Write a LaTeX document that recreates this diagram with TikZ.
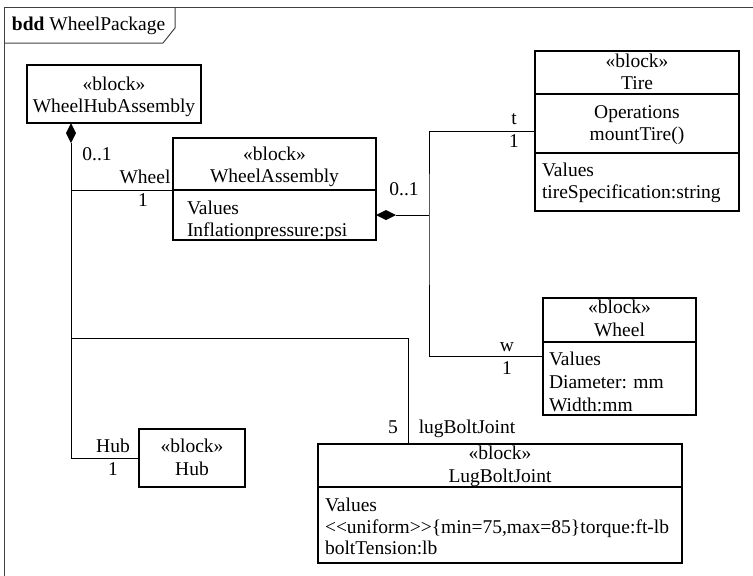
\documentclass[tikz,border=0pt]{standalone}
\usepackage{fontspec}
\setmainfont{Liberation Serif}
\usetikzlibrary{calc}
\begin{document}
\begin{tikzpicture}[x=1pt,y=-1pt,
  every node/.style={font=\fontsize{19.5}{22}\selectfont, inner sep=0pt, outer sep=0pt},
  block/.style={draw, line width=1.1pt, anchor=north west, inner sep=0pt},
  frameline/.style={line width=1pt, draw=black!75},
  conn/.style={line width=1pt},
  sep/.style={line width=1.1pt},
  lbl/.style={anchor=mid, yshift=-3.5pt},
  attr/.style={anchor=mid west, yshift=-3.5pt},
  compo/.style={fill=black}
]
\useasboundingbox (0,0) rectangle (753,576);
\clip (0,0) rectangle (753,576);

% diagram frame and name tab
\draw[frameline] (4,600) -- (4,7) -- (780,7);
\draw[frameline] (175,7) -- (175,28) -- (163,43) -- (4,43);
\node[attr] (title) at (12,25) {\textbf{bdd} WheelPackage};

% blocks
\node[block, minimum width=174pt, minimum height=58pt] (whub) at (27,65) {};
\node[block, minimum width=203pt, minimum height=102pt] (wasm) at (173,138) {};
\node[block, minimum width=204pt, minimum height=160pt] (tire) at (535,51) {};
\node[block, minimum width=153pt, minimum height=117pt] (wheel) at (543,298) {};
\node[block, minimum width=364pt, minimum height=119pt] (lug) at (318,444) {};
\node[block, minimum width=106pt, minimum height=58pt] (hub) at (139,429) {};

% compartment separators
\draw[sep] ($(wasm.north west)+(0,52)$) -- ($(wasm.north east)+(0,52)$);
\draw[sep] ($(tire.north west)+(0,43)$) -- ($(tire.north east)+(0,43)$);
\draw[sep] ($(tire.north west)+(0,102)$) -- ($(tire.north east)+(0,102)$);
\draw[sep] ($(wheel.north west)+(0,44)$) -- ($(wheel.north east)+(0,44)$);
\draw[sep] ($(lug.north west)+(0,43)$) -- ($(lug.north east)+(0,43)$);

% block texts
\node[lbl] (whubS) at (114,85) {«block»};
\node[lbl] (whubN) at (114,107) {WheelHubAssembly};

\node[lbl] (wasmS) at (274.5,155) {«block»};
\node[lbl] (wasmN) at (274.5,177) {WheelAssembly};
\node[attr] (wasmV) at (187,209) {Values};
\node[attr] (wasmA) at (187,231) {Inflationpressure:psi};

\node[lbl] (tireS) at (637,62) {«block»};
\node[lbl] (tireN) at (637,84) {Tire};
\node[lbl] (tireO) at (637,113) {Operations};
\node[lbl] (tireM) at (637,135) {mountTire()};
\node[attr] (tireV) at (542,171) {Values};
\node[attr] (tireA) at (542,193) {tireSpecification:string};

\node[lbl] (wheelS) at (619.5,308) {«block»};
\node[lbl] (wheelN) at (619.5,331) {Wheel};
\node[attr] (wheelV) at (549,360) {Values};
\node[attr] (wheelD) at (549,383) {Diameter: mm};
\node[attr] (wheelW) at (549,406) {Width:mm};

\node[lbl] (lugS) at (500,454) {«block»};
\node[lbl] (lugN) at (500,477) {LugBoltJoint};
\node[attr] (lugV) at (325,506) {Values};
\node[attr] (lugU) at (325,528) {{<}{<}uniform{>}{>}\{min=75,max=85\}torque:ft-lb};
\node[attr] (lugB) at (325,549) {boltTension:lb};

\node[lbl] (hubS) at (192,447) {«block»};
\node[lbl] (hubN) at (192,470) {Hub};

% composition from WheelHubAssembly
\coordinate (d1top) at ($(whub.south west)+(44,0)$);
\coordinate (d1bot) at ($(d1top)+(0,20)$);
\fill[compo] (d1top) -- ++(5,10) -- (d1bot) -- ++(-5,-10) -- cycle;
\coordinate (jWheel) at (d1bot |- 0,190);
\coordinate (jLug) at (d1bot |- 0,338);
\coordinate (lugIn) at ($(lug.north west)+(90,0)$);
\draw[conn] (d1bot) |- (hub.west);
\draw[conn] (jWheel) -- (jWheel -| wasm.west);
\draw[conn] (jLug) -| (lugIn);

% composition from WheelAssembly
\coordinate (d2l) at ($(wasm.north east)+(0,77)$);
\coordinate (d2r) at ($(d2l)+(20,0)$);
\fill[compo] (d2l) -- ++(10,-5) -- (d2r) -- ++(-10,5) -- cycle;
\coordinate (tireIn) at ($(tire.north west)+(0,80)$);
\coordinate (wheelIn) at ($(wheel.north west)+(0,58)$);
\coordinate (spine) at (429,215);
\draw[conn] (d2r) -- (spine);
\draw[conn] (tireIn) -| (spine) |- (wheelIn);

% role names and multiplicities
\node[lbl] (m1) at (97,155) {0..1};
\node[lbl] (r1) at (145,178) {Wheel};
\node[lbl] (m2) at (143,201) {1};
\node[lbl] (m3) at (404,190) {0..1};
\node[lbl] (r2) at (514,119) {t};
\node[lbl] (m4) at (514,142) {1};
\node[lbl] (r3) at (507,346) {w};
\node[lbl] (m5) at (507,369) {1};
\node[lbl] (m6) at (393,428) {5};
\node[lbl] (r4) at (467,428) {lugBoltJoint};
\node[lbl] (r5) at (113,447) {Hub};
\node[lbl] (m7) at (113,470) {1};
\end{tikzpicture}
\end{document}
